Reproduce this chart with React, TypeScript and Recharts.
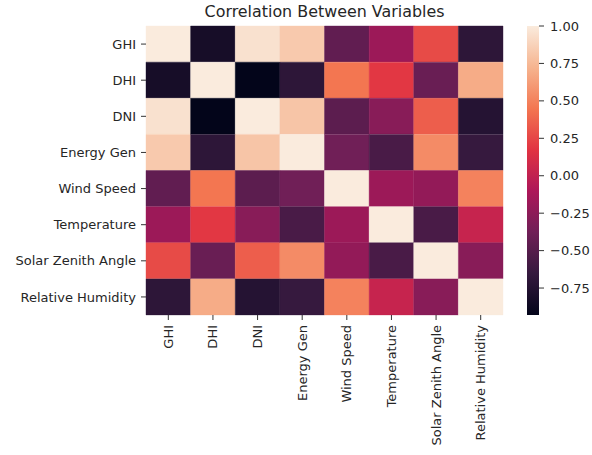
import { Bar, BarChart, Cell, XAxis, YAxis } from "recharts";

const labels = [
  "GHI",
  "DHI",
  "DNI",
  "Energy Gen",
  "Wind Speed",
  "Temperature",
  "Solar Zenith Angle",
  "Relative Humidity",
];

// correlation matrix, row by row
const ghi = [1.0, -0.82, 0.95, 0.83, -0.45, -0.18, 0.27, -0.7];
const dhi = [-0.82, 1.0, -0.93, -0.7, 0.45, 0.19, -0.41, 0.69];
const dni = [0.95, -0.93, 1.0, 0.81, -0.47, -0.27, 0.35, -0.74];
const energyGen = [0.83, -0.7, 0.81, 1.0, -0.38, -0.56, 0.54, -0.65];
const windSpeed = [-0.45, 0.45, -0.47, -0.38, 1.0, -0.18, -0.22, 0.5];
const temperature = [-0.18, 0.19, -0.27, -0.56, -0.18, 1.0, -0.56, 0.03];
const solarZenith = [0.27, -0.41, 0.35, 0.54, -0.22, -0.56, 1.0, -0.27];
const humidity = [-0.7, 0.69, -0.74, -0.65, 0.5, 0.03, -0.27, 1.0];

const matrix = [ghi, dhi, dni, energyGen, windSpeed, temperature, solarZenith, humidity];

const cbarTicks = [-0.75, -0.5, -0.25, 0, 0.25, 0.5, 0.75, 1.0];

const vmin = Math.min(...matrix.flat());
const vmax = 1;

// seaborn "rocket"
const rocket = ["#03051a", "#35193e", "#701f57", "#ad1759", "#e13342", "#f37651", "#f6b48f", "#faebdd"];

function hex(c: string) {
  return [1, 3, 5].map((i) => parseInt(c.slice(i, i + 2), 16));
}

function colorFor(v: number) {
  const t = Math.max(0, Math.min(1, (v - vmin) / (vmax - vmin)));
  const pos = t * (rocket.length - 1);
  const i = Math.min(Math.floor(pos), rocket.length - 2);
  const f = pos - i;
  const a = hex(rocket[i]);
  const b = hex(rocket[i + 1]);
  const rgb = a.map((x, k) => Math.round(x + (b[k] - x) * f));
  return `rgb(${rgb.join(",")})`;
}

const rows = labels.map((name) => {
  const row: Record<string, string | number> = { name };
  labels.forEach((_, j) => (row[`c${j}`] = 1));
  return row;
});

const font = "DejaVu Sans, sans-serif";
const textColor = "#262626";

const fmt = (v: number) => (v < 0 ? "\u2212" : "") + Math.abs(v).toFixed(2);

function BottomTick(props: any) {
  const { x, y, payload } = props;
  return (
    <text
      x={x}
      y={y}
      transform={`rotate(-90, ${x}, ${y})`}
      textAnchor="end"
      dy="0.35em"
      fontSize={13}
      fontFamily={font}
      fill={textColor}
    >
      {labels[Math.floor(payload.value)]}
    </text>
  );
}

export default function App() {
  return (
    <div style={{ position: "absolute", left: 0, top: 0, width: 592, height: 455, background: "#fff", fontFamily: font }}>
      <div
        style={{
          position: "absolute",
          left: 146,
          width: 357,
          top: 2,
          textAlign: "center",
          fontSize: 15.9,
          color: textColor,
          lineHeight: "20px",
        }}
      >
        Correlation Between Variables
      </div>
      <div style={{ position: "absolute", left: 0, top: 0 }}>
        <BarChart
          width={592}
          height={455}
          data={rows}
          layout="vertical"
          barCategoryGap={0}
          barGap={0}
          margin={{ top: 26, right: 89, bottom: 0, left: 0 }}
        >
          <XAxis
            type="number"
            domain={[0, 8]}
            ticks={[0.5, 1.5, 2.5, 3.5, 4.5, 5.5, 6.5, 7.5]}
            height={140}
            axisLine={false}
            tickSize={5}
            tickMargin={5}
            tickLine={{ stroke: "#333" }}
            tick={<BottomTick />}
            interval={0}
          />
          <YAxis
            type="category"
            dataKey="name"
            width={146}
            axisLine={false}
            tickSize={5}
            tickMargin={5}
            tickLine={{ stroke: "#333" }}
            tick={{ fontSize: 13, fontFamily: font, fill: textColor }}
            interval={0}
          />
          {labels.map((_, j) => (
            <Bar key={j} dataKey={`c${j}`} stackId="m" isAnimationActive={false}>
              {matrix.map((row, i) => (
                <Cell key={i} fill={colorFor(row[j])} stroke={colorFor(row[j])} strokeWidth={0.4} />
              ))}
            </Bar>
          ))}
        </BarChart>
      </div>
      <div style={{ position: "absolute", left: 527, top: 0 }}>
        <BarChart
          width={65}
          height={455}
          data={[{ name: "cbar", range: [vmin, vmax] }]}
          barCategoryGap={0}
          margin={{ top: 26, right: 0, bottom: 140, left: 0 }}
        >
          <defs>
            <linearGradient id="rocketGrad" x1="0" y1="1" x2="0" y2="0">
              {rocket.map((c, i) => (
                <stop key={i} offset={i / (rocket.length - 1)} stopColor={c} />
              ))}
            </linearGradient>
          </defs>
          <XAxis dataKey="name" hide />
          <YAxis
            orientation="right"
            type="number"
            domain={[vmin, vmax]}
            ticks={cbarTicks}
            width={53}
            axisLine={false}
            tickSize={5}
            tickMargin={6}
            tickLine={{ stroke: "#333" }}
            tickFormatter={fmt}
            tick={{ fontSize: 13, fontFamily: font, fill: textColor }}
            interval={0}
          />
          <Bar dataKey="range" fill="url(#rocketGrad)" isAnimationActive={false} />
        </BarChart>
      </div>
    </div>
  );
}
